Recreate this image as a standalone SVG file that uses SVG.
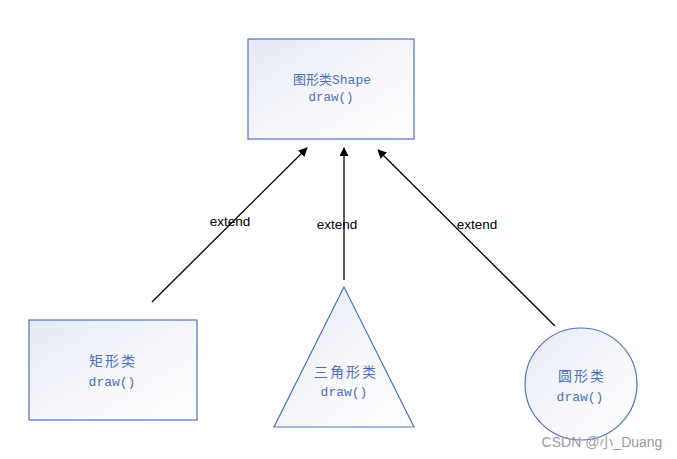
<svg xmlns="http://www.w3.org/2000/svg" width="677" height="459" viewBox="0 0 677 459">
<defs>
<linearGradient id="g" x1="0" y1="0" x2="1" y2="1">
<stop offset="0" stop-color="#e6e9f4"/>
<stop offset="0.6" stop-color="#f8f9fd"/>
<stop offset="1" stop-color="#ffffff"/>
</linearGradient>
<marker id="ah" viewBox="0 0 10 10" refX="9" refY="5" markerWidth="9" markerHeight="9" markerUnits="userSpaceOnUse" orient="auto">
<path d="M0,0 L10,5 L0,10 z" fill="#000"/>
</marker>
<style>
.shape{fill:url(#g);stroke:#4a72c6;stroke-width:1.2}
.t{font-family:"Liberation Mono","Noto Sans CJK SC",monospace;fill:#4a6fbf;text-anchor:middle}
.c{letter-spacing:2px}
.lbl{font-family:"Liberation Sans","Noto Sans",sans-serif;font-size:13.5px;fill:#000;text-anchor:middle}
.conn{stroke:#000;stroke-width:1.3;fill:none;marker-end:url(#ah)}
</style>
</defs>
<rect width="677" height="459" fill="#fff"/>
<g id="shape">
<rect class="shape" x="248" y="39" width="166" height="100"/>
<text class="t" x="332" y="84" font-size="13">图形类Shape</text>
<text class="t" x="331" y="101" font-size="12.5">draw()</text>
</g>
<g id="rect">
<rect class="shape" x="29" y="320" width="168" height="100"/>
<text class="t c" x="113" y="366" font-size="14">矩形类</text>
<text class="t" x="112" y="386" font-size="13">draw()</text>
</g>
<g id="triangle">
<polygon class="shape" points="344,287 274,427 414,427"/>
<text class="t c" x="346" y="377" font-size="14">三角形类</text>
<text class="t" x="344" y="396" font-size="13">draw()</text>
</g>
<g id="circle">
<circle class="shape" cx="581" cy="384" r="56"/>
<text class="t c" x="582" y="381" font-size="14">圆形类</text>
<text class="t" x="580" y="401" font-size="13">draw()</text>
</g>
<g id="connectors">
<line class="conn" x1="152" y1="302" x2="307" y2="148"/>
<line class="conn" x1="344" y1="280" x2="344" y2="148"/>
<line class="conn" x1="555" y1="326" x2="378" y2="150"/>
<text class="lbl" x="230" y="226">extend</text>
<text class="lbl" x="337" y="229">extend</text>
<text class="lbl" x="477" y="229">extend</text>
</g>
<text x="602" y="447" font-family="'Liberation Sans','Noto Sans CJK SC',sans-serif" font-size="14" fill="#9a9a9a" text-anchor="middle">CSDN @小_Duang</text>
</svg>
